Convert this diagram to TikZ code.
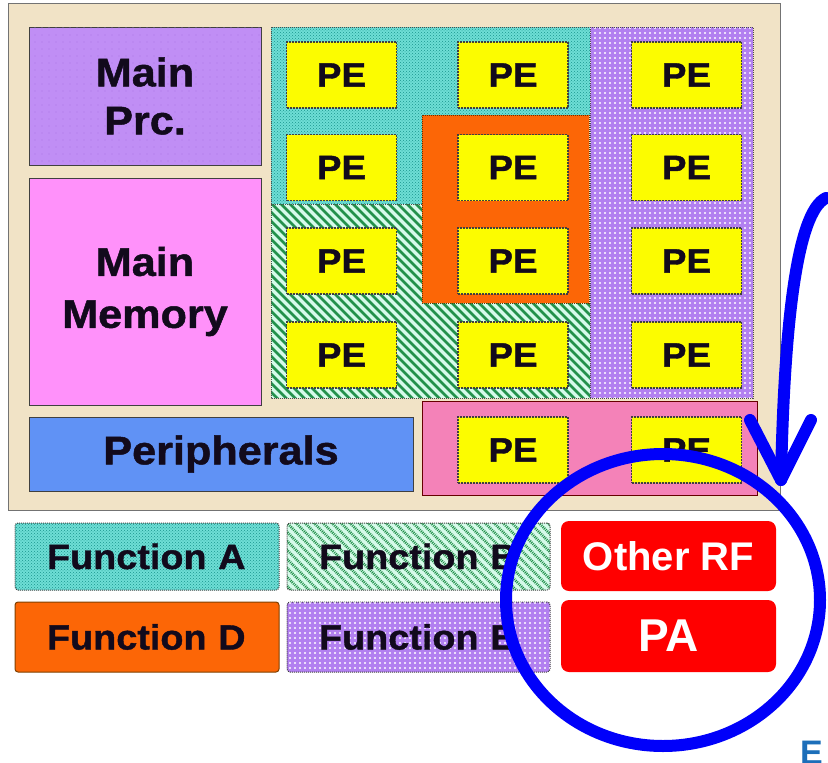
\documentclass[tikz,border=0pt]{standalone}
\usepackage{fontspec}
\setmainfont{Liberation Sans}
% heavy, slightly widened face for the floor-plan labels
\newfontfamily\heavyfont{Liberation Sans}[BoldFeatures={FakeBold=1.2,FakeStretch=1.08}]
\usetikzlibrary{patterns,patterns.meta,shapes.geometric}

\definecolor{panelbeige}{RGB}{241,227,198}
\definecolor{prcviolet}{RGB}{192,142,245}
\definecolor{prcdot}{RGB}{172,120,232}
\definecolor{memmagenta}{RGB}{255,145,250}
\definecolor{periblue}{RGB}{96,146,245}
\definecolor{peyellow}{RGB}{252,252,0}
\definecolor{fnacyan}{RGB}{110,222,214}
\definecolor{fnadot}{RGB}{25,150,140}
\definecolor{fnbbase}{RGB}{214,250,234}
\definecolor{fnbline}{RGB}{35,145,75}
\definecolor{fndorange}{RGB}{252,102,6}
\definecolor{fnepurple}{RGB}{178,128,240}
\definecolor{fncpink}{RGB}{244,130,184}
\definecolor{rfred}{RGB}{255,0,0}
\definecolor{markblue}{RGB}{0,0,250}
\definecolor{letterblue}{RGB}{28,110,185}
\definecolor{inkdark}{RGB}{18,10,28}

\tikzset{
  boldtext/.style={font=\bfseries\fontsize{#1}{#1}\selectfont},
  heavytext/.style={font=\heavyfont\bfseries\fontsize{#1}{#1}\selectfont},
  block/.style={draw=black!75, line width=1pt, inner sep=0pt, text=inkdark, align=center},
  pebox/.style={block, fill=peyellow, dash pattern=on 2pt off 1pt, line width=1.4pt,
    minimum width=110pt, minimum height=66pt, heavytext=34},
  fnA/.style={fill=fnacyan, postaction={pattern=crosshatch dots, pattern color=fnadot}},
  % diagonal stripes running down to the right, clipped to the shape
  fnB/.style={fill=fnbbase, path picture={
      \foreach \s in {-620,-611,...,20}
        \draw[fnbline, line width=2.8pt] (\s,-400) -- ++(800,800);}},
  fnE/.style={fill=fnepurple, postaction={pattern={Dots[radius=1.2pt,distance=5pt]}, pattern color=white}},
  fnD/.style={fill=fndorange},
  fnC/.style={fill=fncpink},
  regionline/.style={draw=black!70, line width=1pt, densely dotted},
  legendbox/.style={block, rounded corners=3pt, densely dotted, inner xsep=32pt, align=left,
    minimum height=67pt, heavytext=35},
  rfbox/.style={fill=rfred, rounded corners=8pt, text=white, inner sep=0pt,
    minimum width=215pt},
  marker/.style={draw=markblue, line width=12pt, line cap=round, line join=round},
}

\begin{document}
\begin{tikzpicture}[x=1pt,y=-1pt]
\useasboundingbox (0,0) rectangle (828,763);
\clip (0,0) rectangle (828,763);
\fill[white] (0,0) rectangle (828,763);

% chip floor plan panel
\draw[fill=panelbeige, draw=black!55, line width=1pt] (8,3) rectangle (780,510);

% functional regions of the PE array
\path[fnA] (271,27) -- (590,27) -- (590,115) -- (422,115) -- (422,204) -- (271,204) -- cycle;
\path[fnB] (271,204) -- (422,204) -- (422,303) -- (590,303) -- (590,398) -- (271,398) -- cycle;
\path[fnE] (590,27) rectangle (753,398);
\path[fnC, draw=black!60!red, line width=1pt] (422,401) rectangle (757,495);
\draw[regionline] (271,27) rectangle (753,398);
\draw[regionline] (590,27) -- (590,398);
\draw[regionline] (271,204) -- (422,204);
\path[fnD, draw=black!60!orange, line width=1pt, densely dotted] (422,115) rectangle (589,303);

% system blocks
\node[block, fill=prcviolet, postaction={pattern={Dots[radius=0.7pt,distance=7pt]}, pattern color=prcdot},
  minimum width=232pt, minimum height=138pt, heavytext=40] (prc) at (145,96)
  {Main\\[8pt]Prc.};
\node[block, fill=memmagenta, minimum width=232pt, minimum height=227pt, heavytext=40] (mem) at (145,291.5)
  {Main\\[12pt]Memory};
\node[block, fill=periblue, minimum width=384pt, minimum height=74pt, heavytext=40] (peri) at (221,454)
  {Peripherals};

% processing elements
\node[pebox] (pe11) at (341.5,75) {PE};
\node[pebox] (pe12) at (513,75) {PE};
\node[pebox] (pe13) at (686.5,75) {PE};
\node[pebox] (pe21) at (341.5,167.5) {PE};
\node[pebox] (pe22) at (513,167.5) {PE};
\node[pebox] (pe23) at (686.5,167.5) {PE};
\node[pebox] (pe31) at (341.5,261) {PE};
\node[pebox] (pe32) at (513,261) {PE};
\node[pebox] (pe33) at (686.5,261) {PE};
\node[pebox] (pe41) at (341.5,355) {PE};
\node[pebox] (pe42) at (513,355) {PE};
\node[pebox] (pe43) at (686.5,355) {PE};
\node[pebox] (pe52) at (513,450) {PE};
\node[pebox] (pe53) at (686.5,450) {PE};

% legend
\node[legendbox, fnA, text width=200pt] (legA) at (147,556.5) {Function A};
\node[legendbox, fnB, text width=199pt] (legB) at (418.5,556.5) {Function B};
\node[legendbox, fnD, draw=black!50!orange, solid, minimum height=70pt, text width=200pt] (legD) at (147,637) {Function D};
\node[legendbox, fnE, minimum height=70pt, text width=199pt] (legE) at (418.5,637) {Function E};

% RF blocks
\node[fill=white, rounded corners=10pt, minimum width=228pt, minimum height=167pt, inner sep=0pt] (rfpanel) at (667,596.5) {};
\node[rfbox, minimum height=70pt, boldtext=40] (otherrf) at (668.5,556) {Other RF};
\node[rfbox, minimum height=72pt, boldtext=46] (pa) at (668.5,636) {PA};

% hand-drawn highlight
\node[draw=markblue, line width=12pt, ellipse, minimum width=314pt, minimum height=292pt, inner sep=0pt] (ring) at (663,600) {};
\coordinate (arrowstart) at (826,198);
\coordinate (arrowtip) at (781,480);
\draw[marker] (arrowstart) .. controls (796,212) and (784,330) .. (arrowtip);
\draw[marker] (arrowtip) ++(-31,-60) -- (arrowtip) -- ++(30,-60);

\node[anchor=base west, inner sep=0pt, text=letterblue, boldtext=34] (edge) at (800,764) {E};
\end{tikzpicture}
\end{document}
